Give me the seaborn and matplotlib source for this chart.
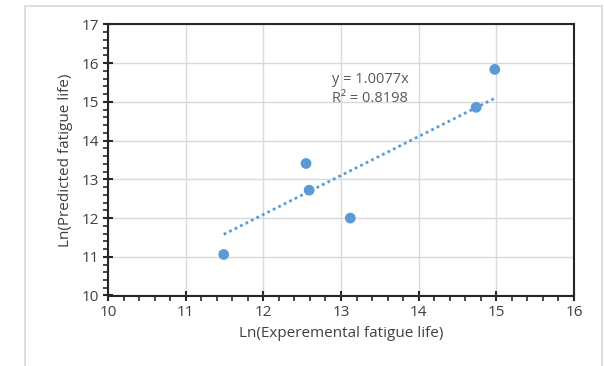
import numpy as np
import pandas as pd
import matplotlib
matplotlib.use("Agg")
import matplotlib.pyplot as plt
from matplotlib.lines import Line2D
from matplotlib.ticker import MultipleLocator
import seaborn as sns

x_exp = [11.49, 12.55, 12.59, 13.12, 14.74, 14.98]
y_pred = [11.06, 13.41, 12.72, 12.00, 14.86, 15.84]
slope = 1.0077
r2 = 0.8198
x_label = "Ln(Experemental fatigue life)"
y_label = "Ln(Predicted fatigue life)"

sns.set_theme(style="white")
plt.rcParams['font.family'] = ['Open Sans', 'DejaVu Sans']

df = pd.DataFrame({"x": x_exp, "y": y_pred})
tx = np.array([min(x_exp), max(x_exp)])
trend = pd.DataFrame({"x": tx, "y": slope * tx})

fig = plt.figure(figsize=(6.04, 3.66), dpi=100)
ax = fig.add_axes([108/604, 1 - 295.5/366, (574-108)/604, (295.5-24.5)/366])

# light frame around the chart area
xl, xr, yt = 25/604, 602/604, 1 - 6/366
for xs, ys in [([xl, xl], [0, yt]), ([xl, xr], [yt, yt]), ([xr, xr], [yt, 0])]:
    fig.add_artist(Line2D(xs, ys, transform=fig.transFigure,
                          color="#d9d9d9", linewidth=1.2))

sns.lineplot(data=trend, x="x", y="y", ax=ax, color="#5B9BD5",
             linestyle=(0, (1, 1.2)), linewidth=2.0, zorder=2)
sns.scatterplot(data=df, x="x", y="y", ax=ax, color="#5B9BD5", s=60,
                edgecolor="none", zorder=3)

ax.set_xlim(10, 16)
ax.set_ylim(10, 17)
ax.xaxis.set_major_locator(MultipleLocator(1))
ax.yaxis.set_major_locator(MultipleLocator(1))
ax.xaxis.set_minor_locator(MultipleLocator(0.2))
ax.yaxis.set_minor_locator(MultipleLocator(0.2))
ax.grid(True, which="major", color="#d9d9d9", linewidth=1.0)
ax.set_axisbelow(True)
for s in ax.spines.values():
    s.set_color("#262626")
    s.set_linewidth(1.5)
ax.tick_params(which="major", direction="inout", length=7, width=1.5,
               color="#262626", labelsize=11, labelcolor="#404040", pad=3,
               bottom=True, left=True)
ax.tick_params(which="minor", direction="out", length=3.5, width=1.2,
               color="#262626", bottom=True, left=True)
ax.set_xlabel(x_label, fontsize=11, color="#404040", labelpad=5)
ax.set_ylabel(y_label, fontsize=11, color="#404040", labelpad=6)

ax.text(12.88, 15.57, f"y = {slope:.4f}x", fontsize=10.5, color="#595959",
        va="center", ha="left")
ax.text(12.88, 15.1, f"R² = {r2:.4f}", fontsize=10.5, color="#595959",
        va="center", ha="left")

fig.savefig("out.png", dpi=100)
